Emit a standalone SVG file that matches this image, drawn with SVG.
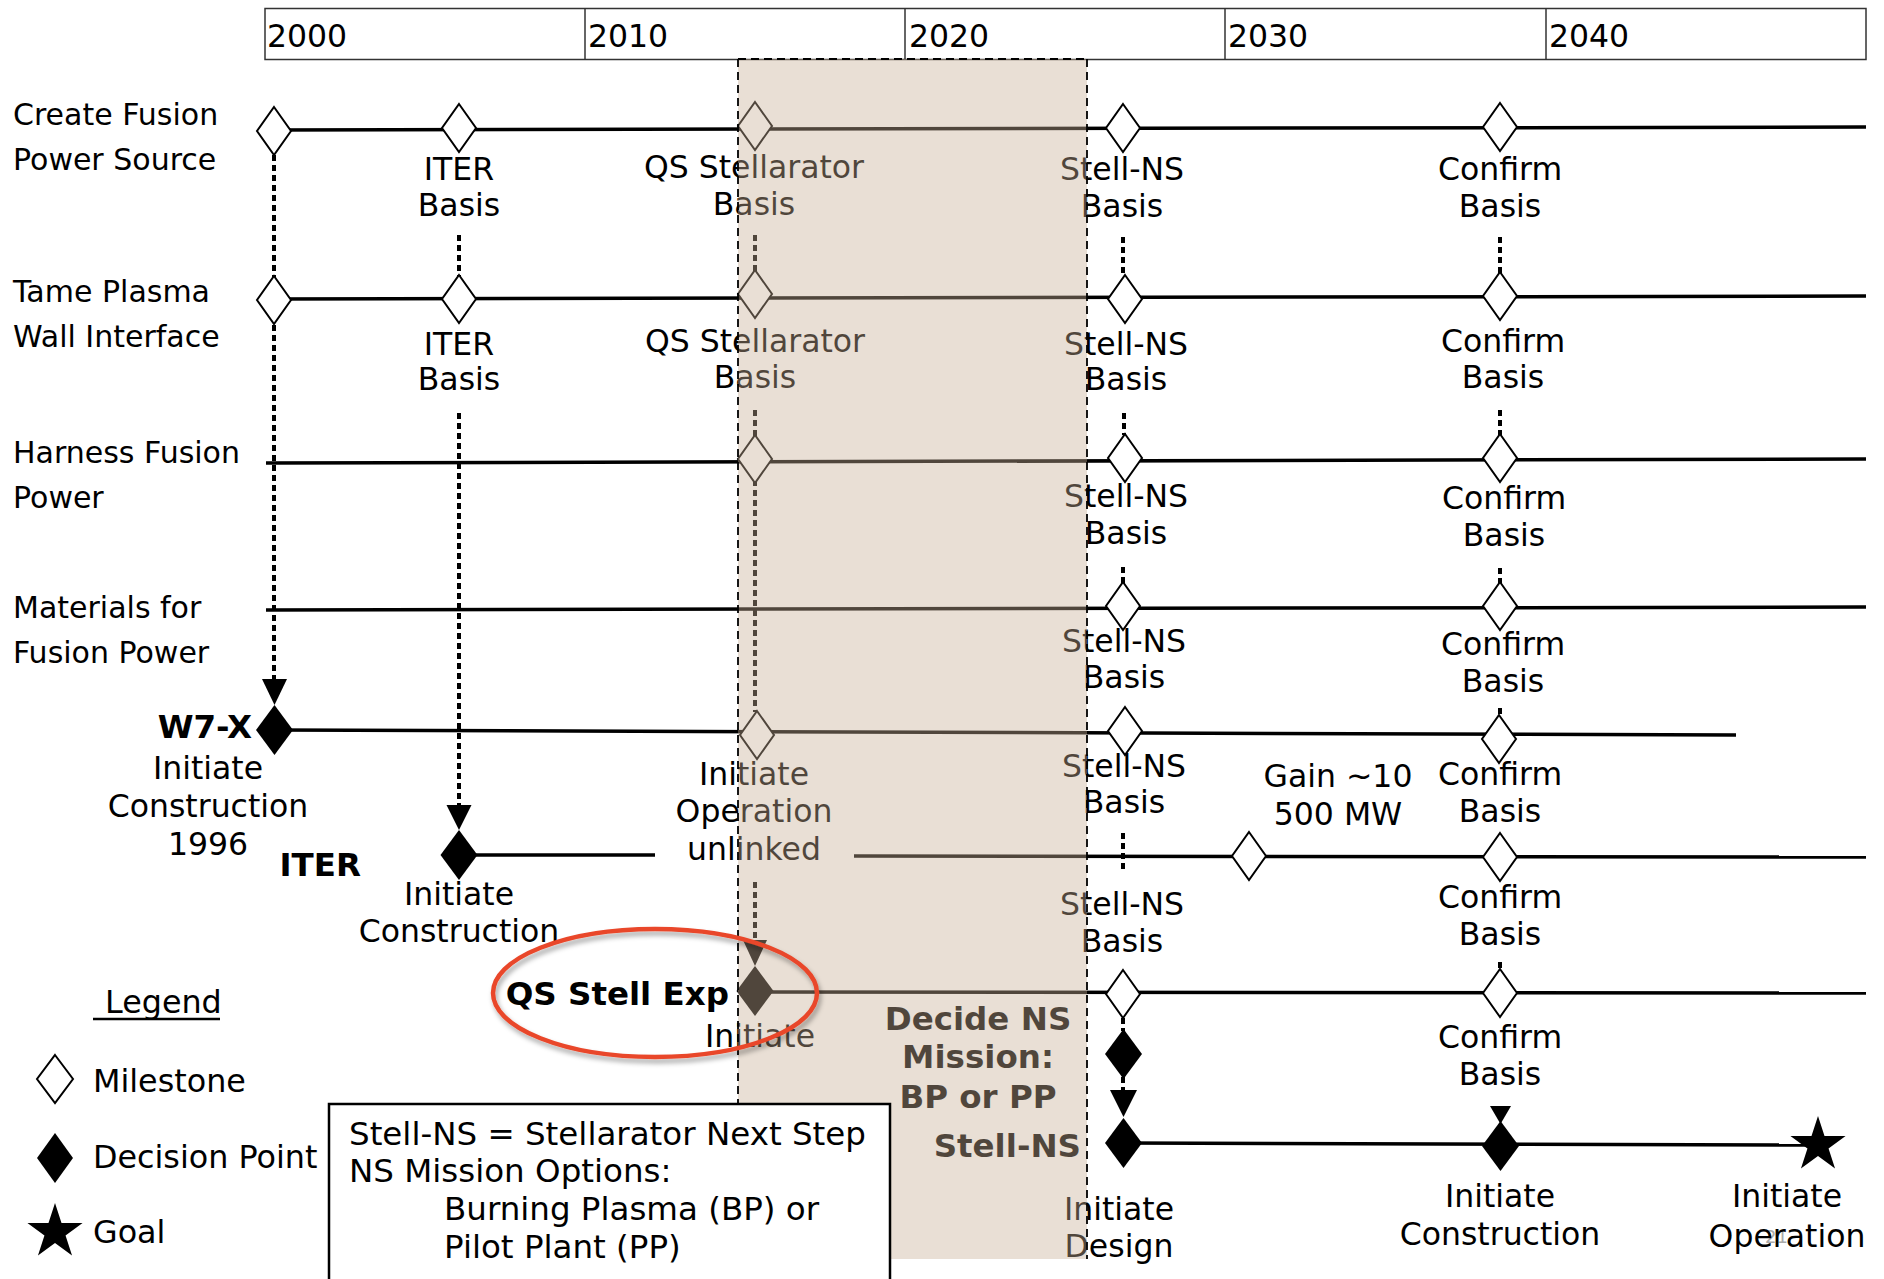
<svg xmlns="http://www.w3.org/2000/svg" width="1884" height="1279" viewBox="0 0 1884 1279">
<defs>
<style>
text{font-family:'DejaVu Sans',Verdana,sans-serif;fill:#000}
.lbl{font-size:31.5px;text-anchor:middle}
.row{font-size:30px}
.b{font-weight:bold;font-size:32.5px;text-anchor:end}
.yr{font-size:31.5px}
.box{font-size:32.5px}
.leg{font-size:31.8px}
.ln{stroke:#000;stroke-width:3.5;fill:none}
.dot{stroke:#000;stroke-width:4;stroke-dasharray:6 4;fill:none}
.ms{fill:#fff;stroke:#000;stroke-width:2}
.dp{fill:#000}
.dash{stroke:#000;stroke-width:1.8;stroke-dasharray:8 5;fill:none}
</style>
<path id="msd" d="M0,-24 L17,0 L0,24 L-17,0 Z"/>
<path id="dpd" d="M0,-25 L18.5,0 L0,25 L-18.5,0 Z"/>
<path id="star" d="M0,-29 L6.51,-8.96 L27.58,-8.96 L10.54,3.42 L17.05,23.46 L0,11.08 L-17.05,23.46 L-10.54,3.42 L-27.58,-8.96 L-6.51,-8.96 Z"/>
<filter id="sh" x="-20%" y="-20%" width="140%" height="160%">
<feDropShadow dx="2" dy="4" stdDeviation="2.5" flood-color="#000" flood-opacity="0.35"/>
</filter>
</defs>

<!-- timeline header -->
<g id="header">
<rect x="265" y="8.5" width="1601" height="51" fill="#fff" stroke="#333" stroke-width="1.5"/>
<line x1="585" y1="8.5" x2="585" y2="59.5" stroke="#333" stroke-width="1.5"/>
<line x1="905" y1="8.5" x2="905" y2="59.5" stroke="#333" stroke-width="1.5"/>
<line x1="1225" y1="8.5" x2="1225" y2="59.5" stroke="#333" stroke-width="1.5"/>
<line x1="1546" y1="8.5" x2="1546" y2="59.5" stroke="#333" stroke-width="1.5"/>
<text class="yr" x="267" y="47">2000</text>
<text class="yr" x="588" y="47">2010</text>
<text class="yr" x="909" y="47">2020</text>
<text class="yr" x="1228" y="47">2030</text>
<text class="yr" x="1549" y="47">2040</text>
</g>

<!-- row titles -->
<g id="row-titles">
<text class="row" x="13" y="125">Create Fusion</text>
<text class="row" x="13" y="170">Power Source</text>
<text class="row" x="13" y="302">Tame Plasma</text>
<text class="row" x="13" y="347">Wall Interface</text>
<text class="row" x="13" y="463">Harness Fusion</text>
<text class="row" x="13" y="508">Power</text>
<text class="row" x="13" y="618">Materials for</text>
<text class="row" x="13" y="663">Fusion Power</text>
</g>

<!-- connectors -->
<g id="connectors">
<line class="ln" x1="274" y1="130" x2="1866" y2="127"/>
<line class="ln" x1="274" y1="299" x2="1866" y2="296"/>
<line class="ln" x1="266" y1="463" x2="1866" y2="459"/>
<line class="ln" x1="266" y1="610" x2="1866" y2="607"/>
<line class="ln" x1="274" y1="730" x2="1736" y2="735"/>
<line class="ln" x1="459" y1="855" x2="655" y2="855"/>
<line class="ln" x1="854" y1="856" x2="1866" y2="857"/>
<line class="ln" x1="755" y1="992" x2="1866" y2="993"/>
<line class="ln" x1="1123" y1="1143" x2="1818" y2="1145"/>

<line class="dot" x1="274" y1="155" x2="274" y2="680"/>
<line class="dot" x1="459" y1="235" x2="459" y2="276"/>
<line class="dot" x1="459" y1="413" x2="459" y2="806"/>
<line class="dot" x1="755" y1="235" x2="755" y2="272"/>
<line class="dot" x1="755" y1="410" x2="755" y2="712"/>
<line class="dot" x1="755" y1="882" x2="755" y2="941"/>
<line class="dot" x1="1123" y1="237" x2="1123" y2="275"/>
<line class="dot" x1="1124" y1="413" x2="1124" y2="435"/>
<line class="dot" x1="1123" y1="567" x2="1123" y2="583"/>
<line class="dot" x1="1123" y1="833" x2="1123" y2="872"/>
<line class="dot" x1="1123" y1="1018" x2="1123" y2="1031"/>
<line class="dot" x1="1123" y1="1077" x2="1123" y2="1091"/>
<line class="dot" x1="1500" y1="237" x2="1500" y2="273"/>
<line class="dot" x1="1500" y1="410" x2="1500" y2="435"/>
<line class="dot" x1="1500" y1="568" x2="1500" y2="583"/>
<line class="dot" x1="1500" y1="708" x2="1500" y2="716"/>
<line class="dot" x1="1500" y1="962" x2="1500" y2="969"/>

<polygon class="dp" points="262,679 287,679 274.5,705"/>
<polygon class="dp" points="446.5,805 471.5,805 459,830"/>
<polygon class="dp" points="743,940 767,940 755,966"/>
<polygon class="dp" points="1110,1090 1137,1090 1123.5,1117"/>
<polygon class="dp" points="1490,1106 1511,1106 1500.5,1124"/>
</g>

<!-- row 1 milestones -->
<g id="r1-start"><use href="#msd" class="ms" x="274" y="131"/></g>
<g id="r1-iter"><use href="#msd" class="ms" x="459" y="128"/>
<text class="lbl" x="459" y="180">ITER</text><text class="lbl" x="459" y="216">Basis</text></g>
<g id="r1-qs"><use href="#msd" class="ms" x="755" y="126"/>
<text class="lbl" x="754" y="178">QS Stellarator</text><text class="lbl" x="754" y="215">Basis</text></g>
<g id="r1-ns"><use href="#msd" class="ms" x="1123" y="128"/>
<text class="lbl" x="1122" y="180">Stell-NS</text><text class="lbl" x="1122" y="217">Basis</text></g>
<g id="r1-confirm"><use href="#msd" class="ms" x="1500" y="127"/>
<text class="lbl" x="1500" y="180">Confirm</text><text class="lbl" x="1500" y="217">Basis</text></g>

<!-- row 2 milestones -->
<g id="r2-start"><use href="#msd" class="ms" x="274" y="300"/></g>
<g id="r2-iter"><use href="#msd" class="ms" x="459" y="299"/>
<text class="lbl" x="459" y="355">ITER</text><text class="lbl" x="459" y="390">Basis</text></g>
<g id="r2-qs"><use href="#msd" class="ms" x="755" y="294"/>
<text class="lbl" x="755" y="352">QS Stellarator</text><text class="lbl" x="755" y="388">Basis</text></g>
<g id="r2-ns"><use href="#msd" class="ms" x="1125" y="299"/>
<text class="lbl" x="1126" y="355">Stell-NS</text><text class="lbl" x="1126" y="390">Basis</text></g>
<g id="r2-confirm"><use href="#msd" class="ms" x="1500" y="296"/>
<text class="lbl" x="1503" y="352">Confirm</text><text class="lbl" x="1503" y="388">Basis</text></g>

<!-- row 3 milestones -->
<g id="r3-qs"><use href="#msd" class="ms" x="755" y="459"/></g>
<g id="r3-ns"><use href="#msd" class="ms" x="1125" y="458"/>
<text class="lbl" x="1126" y="507">Stell-NS</text><text class="lbl" x="1126" y="544">Basis</text></g>
<g id="r3-confirm"><use href="#msd" class="ms" x="1500" y="458"/>
<text class="lbl" x="1504" y="509">Confirm</text><text class="lbl" x="1504" y="546">Basis</text></g>

<!-- row 4 milestones -->
<g id="r4-ns"><use href="#msd" class="ms" x="1123" y="606"/>
<text class="lbl" x="1124" y="652">Stell-NS</text><text class="lbl" x="1124" y="688">Basis</text></g>
<g id="r4-confirm"><use href="#msd" class="ms" x="1500" y="606"/>
<text class="lbl" x="1503" y="655">Confirm</text><text class="lbl" x="1503" y="692">Basis</text></g>

<!-- row 5: W7-X -->
<g id="w7x"><use href="#dpd" class="dp" x="274.5" y="730"/>
<text class="b" x="252" y="738">W7-X</text>
<text class="lbl" x="208" y="779">Initiate</text>
<text class="lbl" x="208" y="817">Construction</text>
<text class="lbl" x="208" y="855">1996</text></g>
<g id="r5-qs"><use href="#msd" class="ms" x="757" y="735"/>
<text class="lbl" x="754" y="785">Initiate</text>
<text class="lbl" x="754" y="822">Operation</text>
<text class="lbl" x="754" y="860">unlinked</text></g>
<g id="r5-ns"><use href="#msd" class="ms" x="1125" y="731"/>
<text class="lbl" x="1124" y="777">Stell-NS</text><text class="lbl" x="1124" y="813">Basis</text></g>
<g id="r5-gain"><text class="lbl" x="1338" y="787">Gain ~10</text><text class="lbl" x="1338" y="825">500 MW</text></g>
<g id="r5-confirm"><use href="#msd" class="ms" x="1499" y="739"/>
<text class="lbl" x="1500" y="785">Confirm</text><text class="lbl" x="1500" y="822">Basis</text></g>

<!-- row 6: ITER -->
<g id="iter"><use href="#dpd" class="dp" x="459" y="855"/>
<text class="b" x="361" y="876">ITER</text>
<text class="lbl" x="459" y="905">Initiate</text>
<text class="lbl" x="459" y="942">Construction</text></g>
<g id="r6-gain"><use href="#msd" class="ms" x="1249" y="856"/></g>
<g id="r6-ns"><text class="lbl" x="1122" y="915">Stell-NS</text><text class="lbl" x="1122" y="952">Basis</text></g>
<g id="r6-confirm"><use href="#msd" class="ms" x="1500" y="857"/>
<text class="lbl" x="1500" y="908">Confirm</text><text class="lbl" x="1500" y="945">Basis</text></g>

<!-- row 7: QS Stell Exp -->
<g id="qsexp"><use href="#dpd" class="dp" x="755" y="991"/>
<text class="b" x="729" y="1005">QS Stell Exp</text>
<text class="lbl" x="760" y="1047">Initiate</text></g>
<g id="r7-ns"><use href="#msd" class="ms" x="1123" y="994"/></g>
<g id="r7-confirm"><use href="#msd" class="ms" x="1500" y="993"/>
<text class="lbl" x="1500" y="1048">Confirm</text><text class="lbl" x="1500" y="1085">Basis</text></g>

<!-- decide NS mission -->
<g id="decide"><use href="#dpd" class="dp" x="1123.5" y="1054"/>
<text class="b" style="text-anchor:middle" x="978" y="1030">Decide NS</text>
<text class="b" style="text-anchor:middle" x="978" y="1068">Mission:</text>
<text class="b" style="text-anchor:middle" x="978" y="1108">BP or PP</text></g>

<!-- row 8: Stell-NS -->
<g id="stellns"><use href="#dpd" class="dp" x="1123.5" y="1143"/>
<text class="b" x="1081" y="1157">Stell-NS</text>
<text class="lbl" x="1119" y="1220">Initiate</text>
<text class="lbl" x="1119" y="1257">Design</text></g>
<g id="r8-construct"><use href="#dpd" class="dp" x="1500.5" y="1146"/>
<text class="lbl" x="1500" y="1207">Initiate</text>
<text class="lbl" x="1500" y="1245">Construction</text></g>
<g id="r8-goal"><use href="#star" class="dp" x="1818" y="1145"/>
<text x="1765" y="1243" style="font-size:18px;fill:#aaa">21</text>
<text class="lbl" x="1787" y="1207">Initiate</text>
<text class="lbl" x="1787" y="1247">Operation</text></g>

<!-- shaded window -->
<g id="window">
<rect x="738" y="59" width="349" height="1200" fill="rgb(200,175,150)" fill-opacity="0.4"/>
<line class="dash" x1="738" y1="1259" x2="1087" y2="1259" filter="url(#sh)"/>
<line class="dash" x1="738" y1="59" x2="1087" y2="59"/>
<line class="dash" x1="738" y1="59" x2="738" y2="1259"/>
<line class="dash" x1="1087" y1="59" x2="1087" y2="1259"/>
</g>

<!-- highlight ellipse -->
<g id="highlight">
<ellipse cx="655" cy="993" rx="162" ry="64" fill="none" stroke="#e9472a" stroke-width="4.5" filter="url(#sh)"/>
</g>

<!-- definitions box -->
<g id="defbox">
<rect x="329" y="1104" width="561" height="200" fill="#fff" stroke="#000" stroke-width="2.5"/>
<text class="box" x="349" y="1145">Stell-NS = Stellarator Next Step</text>
<text class="box" x="349" y="1182">NS Mission Options:</text>
<text class="box" x="444" y="1220">Burning Plasma (BP) or</text>
<text class="box" x="444" y="1258">Pilot Plant (PP)</text>
</g>

<!-- legend -->
<g id="legend">
<text class="leg" x="105" y="1013">Legend</text>
<line x1="93" y1="1019" x2="220" y2="1019" stroke="#000" stroke-width="2.5"/>
<path d="M55,1055 L73,1079 L55,1103 L37,1079 Z" class="ms"/>
<text class="leg" x="93" y="1092">Milestone</text>
<path d="M55,1133 L73,1158 L55,1183 L37,1158 Z" class="dp"/>
<text class="leg" x="93" y="1168">Decision Point</text>
<use href="#star" class="dp" x="55" y="1232"/>
<text class="leg" x="93" y="1243">Goal</text>
</g>
</svg>
